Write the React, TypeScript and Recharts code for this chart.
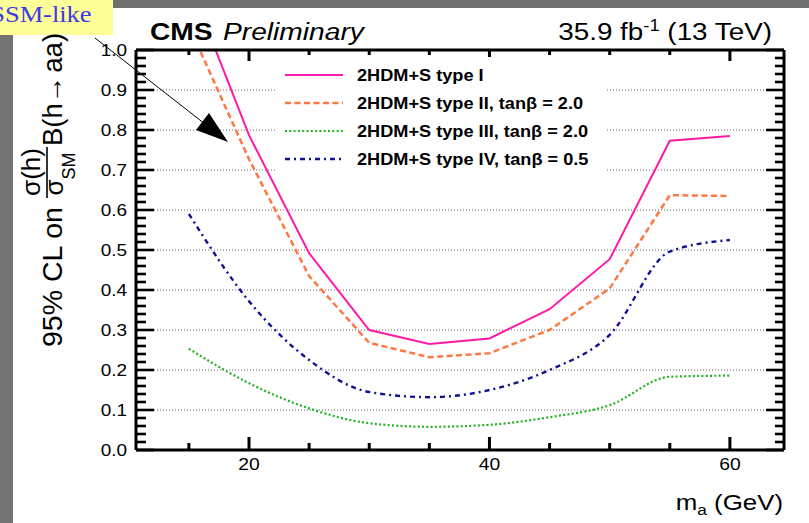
import React from 'react';
import { LineChart, Line, XAxis, YAxis, ReferenceLine, Legend } from 'recharts';

// m_a points (GeV) and the 95% CL limits for each 2HDM+S type
const massPoints = [15, 20, 25, 30, 35, 40, 45, 50, 55, 60];
const typeI   = [1.17, 0.787, 0.492, 0.300, 0.265, 0.279, 0.352, 0.477, 0.773, 0.785];
const typeII  = [1.06, 0.727, 0.435, 0.268, 0.232, 0.242, 0.300, 0.404, 0.637, 0.635];
const typeIII = [0.253, 0.167, 0.104, 0.067, 0.058, 0.063, 0.082, 0.112, 0.183, 0.186];
const typeIV  = [0.590, 0.372, 0.225, 0.145, 0.132, 0.150, 0.200, 0.288, 0.496, 0.525];

const seriesNames = [
  '2HDM+S type I',
  '2HDM+S type II, tanβ = 2.0',
  '2HDM+S type III, tanβ = 2.0',
  '2HDM+S type IV, tanβ = 0.5',
];

const xTicks = [15, 20, 25, 30, 35, 40, 45, 50, 55, 60];
const xLabelled = [20, 40, 60];
const yTicks = Array.from({ length: 51 }, (_, i) => Math.round(i * 2) / 100);
const yGrid = [0.1, 0.2, 0.3, 0.4, 0.5, 0.6, 0.7, 0.8, 0.9];

const data = massPoints.map((m, i) => ({
  m,
  t1: typeI[i],
  t2: typeII[i],
  t3: typeIII[i],
  t4: typeIV[i],
}));

const series = [
  { key: 't1', color: '#ff1aa8', width: 2,   dash: undefined, curve: 'linear' },
  { key: 't2', color: '#ff7744', width: 2.5, dash: '6 3.5',   curve: 'linear' },
  { key: 't3', color: '#1fb41f', width: 2.2, dash: '2 2.3',   curve: 'monotone' },
  { key: 't4', color: '#101090', width: 2.4, dash: '5 4 2 4', curve: 'monotone' },
] as const;

const FONT = '"Liberation Sans", Arial, Helvetica, sans-serif';
const SX = 1.15; // the screenshot is stretched horizontally

const isMajorY = (v: number) => Math.round(v * 100) % 10 === 0;

const LeftTick = (p: any) => {
  const v = p.payload.value;
  const major = isMajorY(v);
  return (
    <g>
      <line x1={p.x} x2={p.x + (major ? 18 : 10)} y1={p.y} y2={p.y} stroke="#000" strokeWidth={2.6} />
      {major && (
        <text
          transform={`translate(${p.x - 9},${p.y}) scale(${SX},1)`}
          textAnchor="end" dy="0.36em" fontSize={16.5} fontFamily={FONT} fill="#000"
        >
          {v.toFixed(1)}
        </text>
      )}
    </g>
  );
};

const RightTick = (p: any) => {
  const major = isMajorY(p.payload.value);
  return <line x1={p.x - (major ? 18 : 9)} x2={p.x} y1={p.y} y2={p.y} stroke="#000" strokeWidth={2.6} />;
};

const BottomTick = (p: any) => {
  const v = p.payload.value;
  const major = xLabelled.includes(v);
  return (
    <g>
      <line x1={p.x} x2={p.x} y1={p.y} y2={p.y - (major ? 13 : 7)} stroke="#000" strokeWidth={3} />
      {major && (
        <text
          transform={`translate(${p.x},${p.y + 19.5}) scale(${SX},1)`}
          textAnchor="middle" fontSize={16.8} fontFamily={FONT} fill="#000"
        >
          {v}
        </text>
      )}
    </g>
  );
};

const TopTick = (p: any) => {
  const major = xLabelled.includes(p.payload.value);
  return <line x1={p.x} x2={p.x} y1={p.y} y2={p.y + (major ? 11 : 5)} stroke="#000" strokeWidth={3} />;
};

const LegendBox = () => (
  <svg width={332} height={122} style={{ display: 'block', background: '#fff' }}>
    {series.map((s, i) => {
      const cy = 18 + i * 28;
      return (
        <g key={s.key}>
          <line x1={10} x2={68} y1={cy} y2={cy} stroke={s.color} strokeWidth={s.width} strokeDasharray={s.dash} />
          <text
            transform={`translate(82,${cy + 5.8}) scale(${SX},1)`}
            fontSize={15.8} fontWeight="bold" fontFamily={FONT} fill="#000"
          >
            {seriesNames[i]}
          </text>
        </g>
      );
    })}
  </svg>
);

export default function App() {
  return (
    <div style={{ position: 'relative', width: 809, height: 523, background: '#fff', fontFamily: FONT }}>
      <style>{'body{margin:0}'}</style>
      <LineChart width={809} height={523} data={data} margin={{ top: 49, right: 24, bottom: 72, left: 135 }}>
        {yGrid.map((v) => (
          <ReferenceLine
            key={v} y={v} xAxisId="b" yAxisId="l"
            stroke="#666" strokeWidth={1.2} strokeDasharray="1 2"
          />
        ))}
        <XAxis
          xAxisId="b" dataKey="m" type="number" domain={[10.6, 64.5]} allowDataOverflow
          ticks={xTicks} interval={0} height={1} tickSize={0} tickMargin={0}
          tick={BottomTick} tickLine={false} axisLine={{ stroke: '#000', strokeWidth: 3 }}
        />
        <XAxis
          xAxisId="t" orientation="top" dataKey="m" type="number" domain={[10.6, 64.5]} allowDataOverflow
          ticks={xTicks} interval={0} height={1} tickSize={0} tickMargin={0}
          tick={TopTick} tickLine={false} axisLine={{ stroke: '#000', strokeWidth: 3 }}
        />
        <YAxis
          yAxisId="l" type="number" domain={[0, 1]} allowDataOverflow
          ticks={yTicks} interval={0} width={1} tickSize={0} tickMargin={0}
          tick={LeftTick} tickLine={false} axisLine={{ stroke: '#000', strokeWidth: 3 }}
        />
        <YAxis
          yAxisId="r" orientation="right" type="number" domain={[0, 1]} allowDataOverflow
          ticks={yTicks} interval={0} width={1} tickSize={0} tickMargin={0}
          tick={RightTick} tickLine={false} axisLine={{ stroke: '#000', strokeWidth: 3 }}
        />
        {series.map((s) => (
          <Line
            key={s.key} xAxisId="b" yAxisId="l" dataKey={s.key} type={s.curve as any}
            stroke={s.color} strokeWidth={s.width} strokeDasharray={s.dash}
            dot={false} activeDot={false} isAnimationActive={false}
          />
        ))}
        <Legend
          layout="horizontal" verticalAlign="middle" align="center"
          content={LegendBox}
          wrapperStyle={{ left: 275, top: 57, width: 332, height: 122 }}
        />
      </LineChart>

      <svg width={809} height={523} style={{ position: 'absolute', left: 0, top: 0, pointerEvents: 'none' }}>
        {/* slide background showing at the edges */}
        <rect x={0} y={0} width={809} height={8} fill="#6f6f6f" />
        <rect x={0} y={0} width={13} height={523} fill="#737373" />

        {/* SM-like callout */}
        <rect x={0} y={0} width={113} height={35} fill="#ffff99" />
        <text
          transform={`translate(-9.7,22) scale(1.1,1)`}
          fontSize={24} fontFamily='"Liberation Serif", "Times New Roman", serif' fill="#3a3ae8"
        >
          SSM-like
        </text>
        <line x1={95} y1={38} x2={205} y2={124} stroke="#000" strokeWidth={1} />
        <polygon points="228,142 209,113 196,130" fill="#000" />

        {/* titles */}
        <text transform={`translate(150,40) scale(${SX},1)`} fontSize={24.5} fontWeight="bold" fill="#000">CMS</text>
        <text transform={`translate(223,40) scale(${SX},1)`} fontSize={24.5} fontStyle="italic" fill="#000">Preliminary</text>
        <text transform={`translate(772,40) scale(${SX},1)`} fontSize={24.2} textAnchor="end" fill="#000">
          35.9 fb<tspan fontSize={16} dy={-9}>-1</tspan><tspan dy={9} fontSize={24.2}> (13 TeV)</tspan>
        </text>

        {/* x axis title */}
        <text transform={`translate(783,510) scale(${SX},1)`} fontSize={22.5} textAnchor="end" fill="#000">
          m<tspan fontSize={15} dy={5}>a</tspan><tspan dy={-5} fontSize={22.5}> (GeV)</tspan>
        </text>

        {/* y axis title */}
        <text transform="translate(61.5,347) rotate(-90)" fontSize={28.5} fill="#000">95% CL on</text>
        <text transform="translate(40,172) rotate(-90)" fontSize={26} textAnchor="middle" fill="#000">σ(h)</text>
        <line x1={47} y1={198} x2={47} y2={147} stroke="#000" strokeWidth={1.6} />
        <text transform="translate(63,174) rotate(-90)" fontSize={26} textAnchor="middle" fill="#000">
          σ<tspan fontSize={18} dy={12}>SM</tspan>
        </text>
        <text transform="translate(61.5,146) rotate(-90)" fontSize={27.5} fill="#000">
          B(h→<tspan dx={3}>aa)</tspan>
        </text>
      </svg>
    </div>
  );
}
